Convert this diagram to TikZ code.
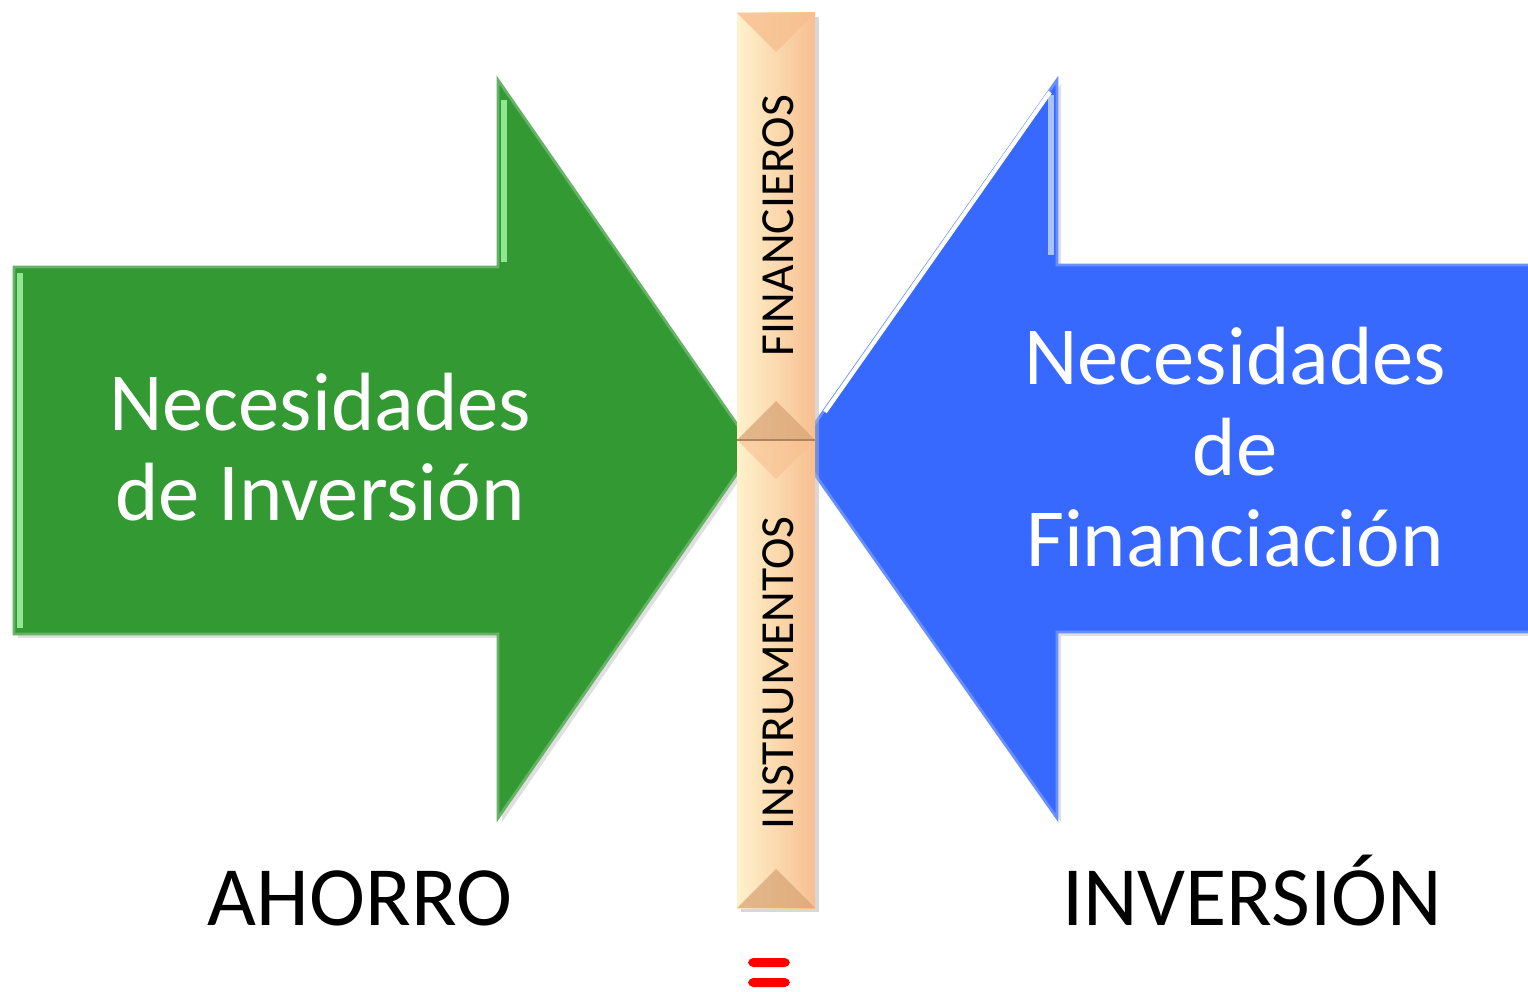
\documentclass[tikz,border=0pt]{standalone}
\usepackage{fontspec}
\setmainfont{Carlito}
\definecolor{verde}{HTML}{339933}
\definecolor{verdeclaro}{HTML}{8FE88F}
\definecolor{azul}{HTML}{3769FF}
\definecolor{azulclaro}{HTML}{A8C4FF}
\definecolor{melocoton}{HTML}{F7BF90}
\definecolor{crema}{HTML}{FFF2CC}
\definecolor{tostado}{HTML}{D9A577}
\tikzset{
  flecha/.style={draw=#1!75!white,line width=0.8pt,fill=#1,line join=miter},
  bisel/.style={fill=tostado,opacity=0.75},
  txtgrande/.style={font=\fontsize{23.5}{25.8}\selectfont,align=center,inner sep=0pt},
  txtnegro/.style={font=\fontsize{24}{26}\selectfont,inner sep=0pt,anchor=base},
  txtbarra/.style={font=\fontsize{13.5}{15}\selectfont,rotate=90,inner sep=0pt}
}
\begin{document}
\begin{tikzpicture}[x=0.01cm,y=-0.01cm]
\useasboundingbox (0,0) rectangle (1528,992);
% flecha verde
\fill[black!25,opacity=0.5] (18,271) -- (502,271) -- (502,84) -- (758,453) -- (502,822) -- (502,638) -- (18,638) -- cycle;
\draw[flecha=verde] (14,267) -- (498,267) -- (498,80) -- (754,449) -- (498,818) -- (498,634) -- (14,634) -- cycle;
\draw[verdeclaro,line width=1.5pt] (20,273) -- (20,628);
\draw[verdeclaro,line width=1.5pt] (504,100) -- (504,262);
% flecha azul
\fill[black!25,opacity=0.5] (1532,269) -- (1061,269) -- (1061,84) -- (801,453) -- (1061,822) -- (1061,636) -- (1532,636) -- cycle;
\draw[flecha=azul] (1530,265) -- (1057,265) -- (1057,80) -- (797,449) -- (1057,818) -- (1057,632) -- (1530,632) -- cycle;
\draw[azulclaro,line width=1.5pt] (1051,95) -- (1051,255);
\draw[white,line width=1.2pt] (1050,92) -- (825,412);
% barra
\fill[black!30,opacity=0.5] (741,17) rectangle (819,912);
\shade[left color=crema,right color=melocoton] (737,13) rectangle (815,440);
\shade[left color=crema,right color=melocoton] (737,440) rectangle (815,908);
\fill[bisel] (737,440) -- (815,440) -- (776,401) -- cycle;
\fill[bisel] (737,908) -- (815,908) -- (776,869) -- cycle;
\fill[melocoton,opacity=0.8] (737,13) -- (815,13) -- (776,52) -- cycle;
\fill[melocoton,opacity=0.6] (737,440) -- (815,440) -- (776,479) -- cycle;
\draw[tostado!80!black,line width=0.8pt] (737,440) -- (815,440);
% textos
\node[txtgrande,white] (necInv) at (320,447) {Necesidades\\de Inversión};
\node[txtgrande,white] (necFin) at (1235,447) {Necesidades\\de\\Financiación};
\node[txtnegro] (ahorro) at (360,925) {AHORRO};
\node[txtnegro] (inversion) at (1252,925) {INVERSIÓN};
\node[txtbarra] (financieros) at (778,226) {FINANCIEROS};
\node[txtbarra] (instrumentos) at (778,673) {INSTRUMENTOS};
% signo igual
\node[inner sep=0pt,minimum width=42\pgflinewidth] (igual) at (769,972) {};
\fill[red,rounded corners=1.5pt] (748,958) rectangle (790,967);
\fill[red,rounded corners=1.5pt] (748,978) rectangle (790,987);
\end{tikzpicture}
\end{document}
